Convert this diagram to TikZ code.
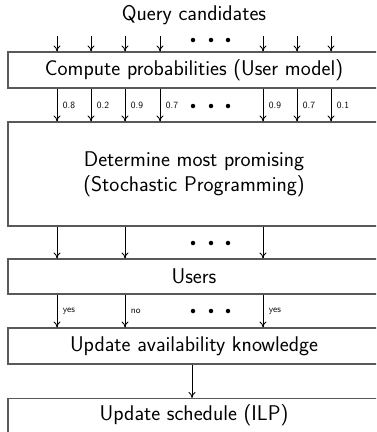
\documentclass[tikz,border=0pt]{standalone}
\usetikzlibrary{arrows.meta}
\begin{document}
\begin{tikzpicture}[x=1pt,y=-1pt,
  font=\sffamily\fontsize{21.3}{25}\selectfont,
  box/.style={draw=black!65, line width=1.1pt, rectangle, minimum width=372pt, inner sep=0pt, align=center},
  arr/.style={-{To[length=6pt,width=7pt]}, line width=0.9pt},
  lab/.style={font=\sffamily\fontsize{9.5}{11}\selectfont, inner sep=0pt, anchor=west},
  dot/.style={circle, fill=black, inner sep=0pt, minimum size=4.5pt}
]
\useasboundingbox (0,0) rectangle (376,432);
\clip (0,0) rectangle (376,432);

% boxes
\node[box, minimum height=36pt] (b1) at (194,70) {Compute probabilities (User model)};
\node[box, minimum height=104pt] (b2) at (194,174) {Determine most promising\\(Stochastic Programming)};
\node[box, minimum height=35pt] (b3) at (194,276.5) {Users};
\node[box, minimum height=36pt] (b4) at (194,346) {Update availability knowledge};
\node[box, minimum height=50pt, anchor=north] (b5) at (194,398) {};
\node (t5) at (194,415) {Update schedule (ILP)};

% candidates entering the user model
\node (qc) at (194,15) {Query candidates};
\foreach \x [count=\i] in {57,91,125,160,263,297,331} {
  \coordinate (q\i) at (\x,36);
  \draw[arr] (q\i) -- (q\i |- b1.north);
}
\foreach \x [count=\i] in {193,211,228} \node[dot] (d1\i) at (\x,40) {};

% probabilities
\foreach \x/\p [count=\i] in {57/0.8,91/0.2,125/0.9,160/0.7,263/0.9,297/0.7,331/0.1} {
  \coordinate (p\i) at (\x,0 |- b1.south);
  \draw[arr] (p\i) -- (p\i |- b2.north) node[lab, midway, xshift=5.5pt] (l\i) {\p};
}
\foreach \x [count=\i] in {193,211,228} \node[dot] (d2\i) at (\x,106) {};

% selected queries go to the users
\foreach \x [count=\i] in {57,125,263} {
  \coordinate (s\i) at (\x,0 |- b2.south);
  \draw[arr] (s\i) -- (s\i |- b3.north);
}
\foreach \x [count=\i] in {193,211,228} \node[dot] (d3\i) at (\x,243) {};

% answers
\foreach \x/\a [count=\i] in {57/yes,125/no,263/yes} {
  \coordinate (u\i) at (\x,0 |- b3.south);
  \draw[arr] (u\i) -- (u\i |- b4.north) node[lab, midway, xshift=5.5pt] (a\i) {\a};
}
\foreach \x [count=\i] in {193,211,228} \node[dot] (d4\i) at (\x,311) {};

\draw[arr] (b4.south -| 192,0) -- (b5.north -| 192,0);
\end{tikzpicture}
\end{document}
